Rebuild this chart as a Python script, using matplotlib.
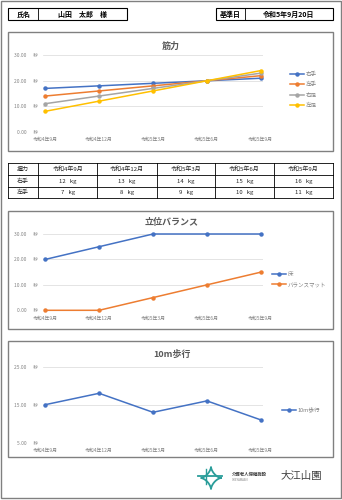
import matplotlib
matplotlib.use("Agg")
import matplotlib.pyplot as plt
from matplotlib.patches import Rectangle
import numpy as np

plt.rcParams['font.family'] = ['Noto Sans CJK JP', 'DejaVu Sans']

W, H = 342, 500

# data
dates = ['令和4年9月', '令和4年12月', '令和5年3月', '令和5年6月', '令和5年9月']
strength_names = ['右手', '左手', '右足', '左足']
right_hand = [17, 18, 19, 20, 21]
left_hand = [14, 16, 18, 20, 22]
right_foot = [11, 14, 17, 20, 23]
left_foot = [8, 12, 16, 20, 24]
grip_right = [12, 13, 14, 15, 16]
grip_left = [7, 8, 9, 10, 11]
balance_names = ['床', 'バランスマット']
balance_floor = [20, 25, 30, 30, 30]
balance_mat = [0, 0, 5, 10, 15]
walk_values = [15, 18, 13, 16, 11]

colors = ['#4472C4', '#ED7D31', '#A5A5A5', '#FFC000']
GRAY = '#595959'
GRID = '#D9D9D9'

fig = plt.figure(figsize=(W / 100, H / 100), dpi=100)

# overlay in pixel coords
bg = fig.add_axes([0, 0, 1, 1], zorder=0)
bg.set_xlim(0, W)
bg.set_ylim(H, 0)
bg.axis('off')


def box(x0, y0, x1, y1, ec='black', lw=0.8):
    bg.add_patch(Rectangle((x0, y0), x1 - x0, y1 - y0, fill=False, ec=ec, lw=lw))


def hline(y, x0, x1, lw=0.6):
    bg.plot([x0, x1], [y, y], color='black', lw=lw)


def vline(x, y0, y1, lw=0.6):
    bg.plot([x, x], [y0, y1], color='black', lw=lw)


# page border
box(1, 1, 341, 498, ec='#808080', lw=1.0)

# header
box(8.3, 8.3, 126.7, 20)
vline(38.3, 8.3, 20)
bg.text(23.3, 14.3, '氏名', ha='center', va='center', fontsize=5, weight='bold')
bg.text(83, 14.3, '山田　太郎　様', ha='center', va='center', fontsize=5, weight='bold')
box(215.7, 8.3, 333.3, 20)
vline(245, 8.3, 20)
bg.text(230.3, 14.3, '基準日', ha='center', va='center', fontsize=5, weight='bold')
bg.text(289, 14.3, '令和5年9月20日', ha='center', va='center', fontsize=5, weight='bold')

# chart frames
box(8.3, 32, 333.3, 151, ec='#808080', lw=1.0)
box(8.3, 210.7, 333.3, 329, ec='#808080', lw=1.0)
box(8.3, 341, 333.3, 457, ec='#808080', lw=1.0)

# grip table
cols = [8.3, 38.3, 97.3, 156.7, 215, 274, 333.3]
rows = [163, 175, 187, 198.3]
for y in rows:
    hline(y, cols[0], cols[-1])
for x in cols:
    vline(x, rows[0], rows[-1])
cells = [['握力'] + dates,
         ['右手'] + [f'{v}   kg' for v in grip_right],
         ['左手'] + [f'{v}   kg' for v in grip_left]]
for r, row in enumerate(cells):
    yc = (rows[r] + rows[r + 1]) / 2
    for c, txt in enumerate(row):
        xc = (cols[c] + cols[c + 1]) / 2
        bg.text(xc, yc, txt, ha='center', va='center', fontsize=4.3, color='#262626')


def px_axes(x0, y0, x1, y1):
    return fig.add_axes([x0 / W, 1 - y1 / H, (x1 - x0) / W, (y1 - y0) / H], zorder=2)


def style(ax, ylim, ticks):
    ax.set_facecolor('none')
    ax.set_xlim(-0.04, 4.04)
    ax.set_ylim(*ylim)
    ax.set_yticks(ticks)
    ax.set_yticklabels([f'{t:.2f}      秒' for t in ticks])
    ax.set_xticks(range(len(dates)))
    ax.set_xticklabels(dates)
    ax.tick_params(length=0, labelsize=3.5, labelcolor='#808080')
    ax.tick_params(axis='y', pad=3.5)
    ax.tick_params(axis='x', pad=4.0)
    for s in ax.spines.values():
        s.set_visible(False)
    ax.grid(axis='y', color=GRID, lw=0.5)
    ax.set_axisbelow(True)


def add_legend(ax, x, y):
    ax.legend(loc='center left', bbox_to_anchor=(x / W, 1 - y / H),
              bbox_transform=fig.transFigure, frameon=False, fontsize=4,
              handlelength=2.6, handletextpad=0.2, labelspacing=0.95,
              borderpad=0, borderaxespad=0, labelcolor='#808080')


x = np.arange(len(dates))

# 筋力
ax1 = px_axes(43, 55.3, 263, 131.7)
style(ax1, (0, 30), [0, 10, 20, 30])
for vals, name, col in zip([right_hand, left_hand, right_foot, left_foot],
                           strength_names, colors):
    ax1.plot(x, vals, color=col, lw=1.1, marker='o', ms=2.2, label=name, clip_on=False)
add_legend(ax1, 290, 90)
bg.text(171, 46, '筋力', ha='center', va='center', fontsize=6.5, color=GRAY, weight='bold')

# 立位バランス
ax2 = px_axes(43, 234, 263, 310.3)
style(ax2, (0, 30), [0, 10, 20, 30])
ax2.plot(x, balance_floor, color=colors[0], lw=1.1, marker='o', ms=2.2,
         label=balance_names[0], clip_on=False)
ax2.plot(x, balance_mat, color=colors[1], lw=1.1, marker='o', ms=2.2,
         label=balance_names[1], clip_on=False)
add_legend(ax2, 272, 279.5)
bg.text(171.5, 222, '立位バランス', ha='center', va='center', fontsize=6.5, color=GRAY, weight='bold')

# 10m歩行
ax3 = px_axes(43, 366.7, 263, 442.7)
style(ax3, (5, 25), [5, 15, 25])
ax3.plot(x, walk_values, color=colors[0], lw=1.1, marker='o', ms=2.2,
         label='10m歩行', clip_on=False)
add_legend(ax3, 282, 410)
bg.text(171.5, 354, '10m歩行', ha='center', va='center', fontsize=6.5, color=GRAY, weight='bold')

# logo
teal = '#2A9D9A'
t = np.linspace(0, 2 * np.pi, 200)
cx, cy, r = 211, 478, 10
bg.plot(cx + r * np.cos(t) ** 3, cy + r * np.sin(t) ** 3 * 1.1, color=teal, lw=1.3)
bg.plot([198, 222], [476, 476], color=teal, lw=1.3)
bg.plot([206, 206], [469, 484], color=teal, lw=1.0)
bg.text(232, 474.5, '介護老人保健施設', ha='left', va='center', fontsize=3.2, color='#404040', weight='bold')
bg.text(232, 480, 'OOEYAMAEN', ha='left', va='center', fontsize=2, color='#808080')
bg.text(301, 476, '大江山園', ha='center', va='center', fontsize=7.5, color='#404040')

fig.savefig('out.png', dpi=100)
